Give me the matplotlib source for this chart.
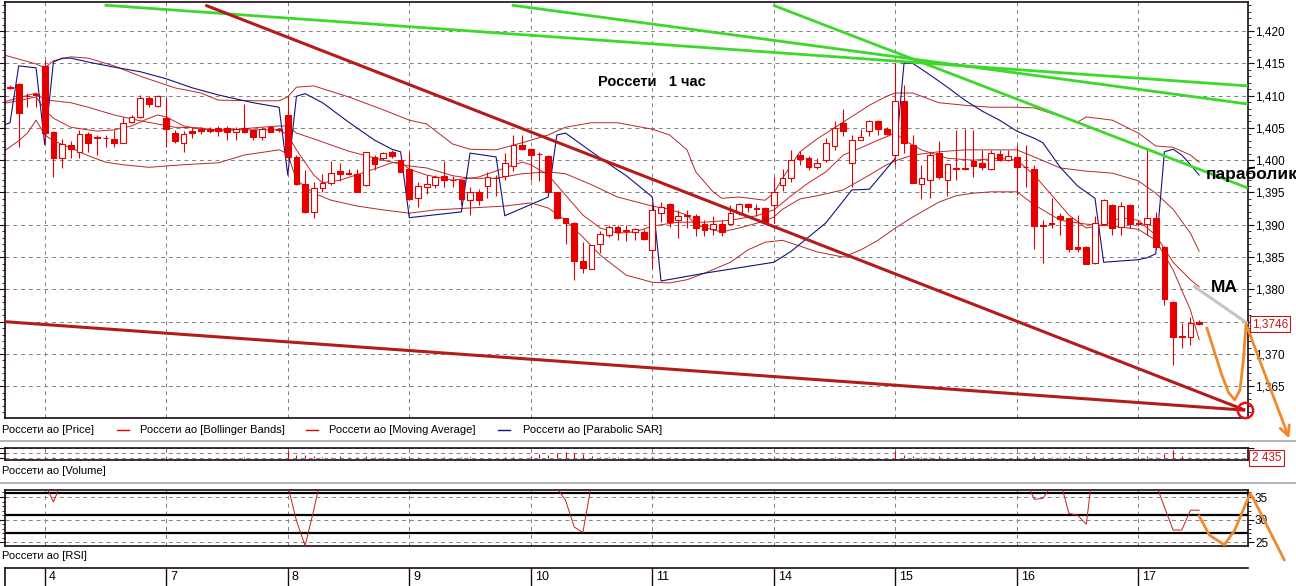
import matplotlib.pyplot as plt
import matplotlib.transforms as mtransforms
from matplotlib.lines import Line2D
from matplotlib.ticker import MultipleLocator, FuncFormatter
import numpy as np

plt.rcParams['font.family'] = ['Liberation Sans Narrow', 'Liberation Sans', 'DejaVu Sans']

# ---- данные (часовые свечи Россети ао) ----
day_labels = ['4', '7', '8', '9', '10', '11', '14', '15', '16', '17']
day_start = [4, 18, 32, 46, 60, 74, 88, 102, 116, 130]

opens = [1.4114, 1.4118, 1.4100, 1.4102, 1.4146, 1.4044, 1.4003, 1.4023, 1.4012, 1.4040,
         1.4036, 1.4035, 1.4033, 1.4027, 1.4059, 1.4067, 1.4096, 1.4084, 1.4066, 1.4042,
         1.4027, 1.4045, 1.4049, 1.4048, 1.4050, 1.4050, 1.4043, 1.4050, 1.4047, 1.4036,
         1.4052, 1.4048, 1.4070, 1.4005, 1.3963, 1.3920, 1.3957, 1.3965, 1.3984, 1.3980,
         1.3979, 1.3962, 1.4005, 1.4004, 1.4013, 1.4001, 1.3987, 1.3941, 1.3958, 1.3962,
         1.3975, 1.3970, 1.3970, 1.3938, 1.3950, 1.3960, 1.3972, 1.3975, 1.3991, 1.4024,
         1.4017, 1.4010, 1.4006, 1.3950, 1.3910, 1.3903, 1.3844, 1.3832, 1.3871, 1.3884,
         1.3897, 1.3892, 1.3889, 1.3889, 1.3861, 1.3918, 1.3932, 1.3907, 1.3914, 1.3914,
         1.3901, 1.3893, 1.3901, 1.3902, 1.3918, 1.3932, 1.3926, 1.3926, 1.3931, 1.3961,
         1.3972, 1.4008, 1.4003, 1.3989, 1.4000, 1.4022, 1.4058, 1.3995, 1.4032, 1.4045,
         1.4061, 1.4048, 1.4008, 1.4092, 1.4024, 1.3963, 1.3969, 1.4011, 1.3969, 1.3988,
         1.3988, 1.3998, 1.3996, 1.3986, 1.4010, 1.4001, 1.4005, 1.3990, 1.3987, 1.3900,
         1.3903, 1.3913, 1.3910, 1.3866, 1.3866, 1.3841, 1.3902, 1.3931, 1.3897, 1.3931,
         1.3903, 1.3901, 1.3910, 1.3866, 1.3781, 1.3727, 1.3726, 1.3750]
highs = [1.4117, 1.4120, 1.4104, 1.4104, 1.4155, 1.4045, 1.4033, 1.4030, 1.4047, 1.4044,
         1.4039, 1.4039, 1.4047, 1.4067, 1.4070, 1.4101, 1.4099, 1.4101, 1.4096, 1.4047,
         1.4045, 1.4051, 1.4052, 1.4051, 1.4053, 1.4053, 1.4052, 1.4087, 1.4049, 1.4052,
         1.4053, 1.4050, 1.4099, 1.4008, 1.3985, 1.3967, 1.3979, 1.3998, 1.3996, 1.3987,
         1.3987, 1.4013, 1.4008, 1.4013, 1.4016, 1.4003, 1.4013, 1.3967, 1.3977, 1.3977,
         1.3998, 1.3976, 1.3971, 1.3958, 1.3955, 1.3982, 1.3977, 1.4011, 1.4039, 1.4039,
         1.4019, 1.4013, 1.4008, 1.3951, 1.3911, 1.3904, 1.3873, 1.3869, 1.3891, 1.3900,
         1.3900, 1.3899, 1.3895, 1.3893, 1.3936, 1.3936, 1.3934, 1.3923, 1.3923, 1.3917,
         1.3907, 1.3913, 1.3907, 1.3931, 1.3933, 1.3933, 1.3932, 1.3928, 1.3974, 1.3986,
         1.4016, 1.4015, 1.4007, 1.4003, 1.4034, 1.4060, 1.4079, 1.4039, 1.4048, 1.4062,
         1.4062, 1.4052, 1.4150, 1.4116, 1.4039, 1.3993, 1.4013, 1.4030, 1.3995, 1.4047,
         1.4049, 1.4047, 1.4016, 1.4016, 1.4016, 1.4016, 1.4024, 1.4024, 1.3993, 1.3907,
         1.3941, 1.3918, 1.3911, 1.3915, 1.3867, 1.3913, 1.3940, 1.3932, 1.3936, 1.3932,
         1.3907, 1.4016, 1.3920, 1.3867, 1.3782, 1.3748, 1.3757, 1.3752]
lows = [1.4110, 1.4021, 1.4082, 1.4083, 1.4027, 1.3974, 1.3988, 1.4003, 1.4003, 1.4013,
        1.4008, 1.4021, 1.4021, 1.4026, 1.4058, 1.4066, 1.4083, 1.4082, 1.4021, 1.4027,
        1.4012, 1.4034, 1.4041, 1.4042, 1.4037, 1.4032, 1.4032, 1.4042, 1.4031, 1.4031,
        1.4043, 1.4044, 1.4003, 1.3962, 1.3919, 1.3910, 1.3951, 1.3962, 1.3968, 1.3977,
        1.3950, 1.3960, 1.3985, 1.4000, 1.4003, 1.3981, 1.3938, 1.3928, 1.3948, 1.3957,
        1.3959, 1.3959, 1.3931, 1.3915, 1.3931, 1.3941, 1.3944, 1.3969, 1.3983, 1.4016,
        1.3969, 1.3968, 1.3949, 1.3909, 1.3870, 1.3815, 1.3825, 1.3831, 1.3856, 1.3881,
        1.3876, 1.3875, 1.3876, 1.3876, 1.3833, 1.3905, 1.3897, 1.3880, 1.3895, 1.3882,
        1.3882, 1.3884, 1.3882, 1.3901, 1.3915, 1.3920, 1.3913, 1.3902, 1.3903, 1.3952,
        1.3967, 1.3993, 1.3985, 1.3987, 1.3997, 1.4016, 1.4038, 1.3959, 1.4031, 1.4037,
        1.4039, 1.4039, 1.3993, 1.4011, 1.3964, 1.3940, 1.3942, 1.3971, 1.3945, 1.3969,
        1.3985, 1.3974, 1.3985, 1.3985, 1.3999, 1.3999, 1.3946, 1.3958, 1.3862, 1.3841,
        1.3895, 1.3884, 1.3858, 1.3858, 1.3839, 1.3840, 1.3900, 1.3884, 1.3884, 1.3895,
        1.3898, 1.3884, 1.3864, 1.3776, 1.3683, 1.3709, 1.3714, 1.3745]
closes = [1.4111, 1.4073, 1.4099, 1.4101, 1.4042, 1.4003, 1.4025, 1.4017, 1.4040, 1.4027,
          1.4035, 1.4034, 1.4027, 1.4057, 1.4067, 1.4096, 1.4087, 1.4100, 1.4048, 1.4029,
          1.4040, 1.4042, 1.4045, 1.4045, 1.4045, 1.4043, 1.4049, 1.4044, 1.4036, 1.4049,
          1.4044, 1.4046, 1.4005, 1.3963, 1.3920, 1.3957, 1.3965, 1.3980, 1.3978, 1.3979,
          1.3951, 1.4012, 1.3994, 1.4011, 1.4006, 1.3982, 1.3940, 1.3960, 1.3963, 1.3974,
          1.3969, 1.3969, 1.3940, 1.3951, 1.3939, 1.3974, 1.3973, 1.3995, 1.4023, 1.4017,
          1.4008, 1.4009, 1.3950, 1.3910, 1.3903, 1.3844, 1.3833, 1.3868, 1.3885, 1.3896,
          1.3889, 1.3891, 1.3893, 1.3878, 1.3923, 1.3928, 1.3905, 1.3914, 1.3915, 1.3895,
          1.3892, 1.3902, 1.3889, 1.3918, 1.3932, 1.3928, 1.3925, 1.3905, 1.3951, 1.3972,
          1.4000, 1.4002, 1.3989, 1.3995, 1.4027, 1.4050, 1.4045, 1.4031, 1.4036, 1.4061,
          1.4048, 1.4040, 1.4092, 1.4027, 1.3965, 1.3973, 1.4008, 1.3974, 1.3994, 1.3987,
          1.3987, 1.3991, 1.3990, 1.4011, 1.4001, 1.4006, 1.3989, 1.3989, 1.3898, 1.3898,
          1.3902, 1.3909, 1.3862, 1.3862, 1.3840, 1.3903, 1.3938, 1.3895, 1.3929, 1.3902,
          1.3902, 1.3910, 1.3865, 1.3785, 1.3726, 1.3726, 1.3748, 1.3746]
volume = [5000, 4000, 5000, 4000, 15000, 18000, 8000, 6000, 8000, 5000,
          4000, 3000, 6000, 7000, 5000, 8000, 6000, 5000, 14000, 8000,
          6000, 4000, 3000, 4000, 3000, 4000, 3000, 9000, 6000, 5000,
          4000, 3000, 77000, 33000, 33000, 25000, 18000, 15000, 19000, 9000,
          14000, 20000, 12000, 9000, 8000, 13000, 18000, 10000, 7000, 6000,
          9000, 5000, 10000, 9000, 6000, 8000, 5000, 9000, 12000, 7000,
          20000, 40000, 30000, 57000, 67000, 55000, 40000, 25000, 15000, 14000,
          9000, 8000, 7000, 9000, 18000, 8000, 9000, 6000, 5000, 7000,
          6000, 5000, 6000, 7000, 6000, 4000, 3000, 6000, 14000, 9000,
          10000, 6000, 7000, 5000, 8000, 9000, 7000, 10000, 4000, 6000,
          5000, 4000, 77000, 35000, 25000, 18000, 15000, 20000, 14000, 10000,
          9000, 13000, 8000, 10000, 7000, 6000, 25000, 14000, 24000, 18000,
          12000, 9000, 20000, 14000, 22000, 15000, 10000, 12000, 9000, 8000,
          15000, 28000, 18000, 40000, 83000, 20000, 9000, 2435]

# полосы Боллинджера, скользящая средняя, параболик (узлы)
bb_up_x = [-1, 3, 4, 5, 7, 9, 12, 15, 19, 22, 24, 28, 31, 32, 33, 35, 39, 43, 46, 48,
           51, 53, 56, 59, 62, 64, 67, 70, 74, 76, 78, 79, 81, 82, 84, 87, 88, 89, 91, 93,
           96, 99, 101, 102, 104, 107, 110, 113, 116, 118, 121, 123, 124, 127, 130, 132, 134, 136, 137]
bb_up = [1.4164, 1.4149, 1.4143, 1.4154, 1.4160, 1.4158, 1.4146, 1.4130, 1.4112, 1.4104,
         1.4093, 1.4092, 1.4092, 1.4098, 1.4113, 1.4115, 1.4098, 1.4078, 1.4062, 1.4056,
         1.4025, 1.4017, 1.4016, 1.4027, 1.4039, 1.4051, 1.4058, 1.4058, 1.4048, 1.4039,
         1.4016, 1.3982, 1.3951, 1.3941, 1.3943, 1.3938, 1.3949, 1.3972, 1.4013, 1.4033,
         1.4059, 1.4085, 1.4099, 1.4104, 1.4104, 1.4089, 1.4085, 1.4082, 1.4082, 1.4081,
         1.4068, 1.4059, 1.4067, 1.4062, 1.4042, 1.4022, 1.4020, 1.4008, 1.3997]
bb_lo_x = [-1, 1, 2, 3, 4, 5, 7, 9, 11, 13, 16, 20, 24, 27, 31, 32, 33, 35, 37, 40,
           43, 46, 49, 53, 57, 60, 62, 64, 66, 68, 71, 74, 76, 78, 80, 83, 85, 87, 89, 91,
           93, 96, 98, 100, 102, 104, 107, 109, 111, 113, 116, 118, 121, 124, 127, 130, 132, 134, 136, 137]
bb_lo = [1.4011, 1.4030, 1.4042, 1.4062, 1.4039, 1.4030, 1.4019, 1.4007, 1.3997, 1.3993,
         1.3989, 1.3993, 1.3996, 1.4008, 1.4016, 1.4010, 1.3969, 1.3949, 1.3938, 1.3929,
         1.3923, 1.3918, 1.3923, 1.3926, 1.3929, 1.3934, 1.3926, 1.3907, 1.3881, 1.3853,
         1.3822, 1.3811, 1.3810, 1.3815, 1.3825, 1.3842, 1.3861, 1.3873, 1.3876, 1.3867,
         1.3858, 1.3850, 1.3861, 1.3876, 1.3895, 1.3912, 1.3935, 1.3945, 1.3949, 1.3951,
         1.3951, 1.3931, 1.3907, 1.3901, 1.3898, 1.3893, 1.3876, 1.3830, 1.3768, 1.3722]
bb_mid_x = [-1, 3, 4, 5, 7, 9, 12, 15, 19, 22, 24, 28, 31, 32, 33, 35, 39, 43, 46, 48,
            51, 53, 56, 59, 62, 64, 67, 70, 74, 76, 78, 79, 81, 82, 84, 87, 88, 89, 91, 93,
            96, 99, 101, 102, 104, 107, 110, 113, 116, 118, 121, 124, 127, 130, 132, 134, 136, 137]
bb_mid = [1.4089, 1.4104, 1.4093, 1.4092, 1.4089, 1.4082, 1.4070, 1.4061, 1.4051, 1.4050,
          1.4045, 1.4050, 1.4053, 1.4053, 1.4042, 1.4033, 1.4014, 1.4000, 1.3991, 1.3988,
          1.3976, 1.3972, 1.3972, 1.3979, 1.3982, 1.3979, 1.3962, 1.3943, 1.3929, 1.3924,
          1.3915, 1.3900, 1.3892, 1.3889, 1.3895, 1.3906, 1.3912, 1.3924, 1.3940, 1.3945,
          1.3954, 1.3977, 1.3993, 1.3999, 1.4008, 1.4013, 1.4016, 1.4016, 1.4016, 1.4005,
          1.3988, 1.3983, 1.3980, 1.3968, 1.3949, 1.3924, 1.3887, 1.3859]
ma_x = [-1, 2, 3, 4, 5, 7, 10, 12, 14, 16, 17, 18, 20, 22, 24, 31, 32, 33, 35, 36,
        38, 41, 44, 45, 46, 48, 51, 54, 57, 59, 60, 62, 64, 66, 68, 70, 72, 74, 77, 80,
        83, 86, 88, 90, 92, 94, 96, 98, 100, 102, 103, 105, 108, 111, 114, 116, 118, 120, 122, 124,
        126, 128, 130, 132, 134, 136, 137]
ma = [1.4087, 1.4095, 1.4098, 1.4078, 1.4065, 1.4051, 1.4045, 1.4047, 1.4053, 1.4065,
      1.4070, 1.4067, 1.4053, 1.4048, 1.4047, 1.4047, 1.4039, 1.4016, 1.3977, 1.3965,
      1.3969, 1.3982, 1.3996, 1.3997, 1.3986, 1.3977, 1.3969, 1.3974, 1.3988, 1.3997,
      1.3993, 1.3977, 1.3946, 1.3915, 1.3895, 1.3887, 1.3889, 1.3898, 1.3904, 1.3904,
      1.3907, 1.3914, 1.3923, 1.3945, 1.3965, 1.3982, 1.4008, 1.4019, 1.4031, 1.4042,
      1.4031, 1.4016, 1.4003, 1.4000, 1.4003, 1.4000, 1.3977, 1.3946, 1.3915, 1.3895,
      1.3900, 1.3911, 1.3907, 1.3884, 1.3842, 1.3815, 1.3804]
sar_x = [-1, 0, 1, 3, 4, 5, 6, 7, 9, 12, 15, 18, 21, 24, 28, 31, 32, 33, 34, 36,
         39, 42, 44, 45, 46, 52, 53, 56, 57, 62, 63, 64, 67, 69, 71, 74, 75, 80, 88, 90,
         94, 97, 99, 102, 103, 104, 106, 108, 110, 112, 114, 116, 118, 119, 121, 123, 125, 126, 130, 131,
         132, 133, 134, 135, 136, 137]
sar = [1.4053, 1.4058, 1.4146, 1.4143, 1.4024, 1.4152, 1.4158, 1.4158, 1.4152, 1.4144,
       1.4137, 1.4126, 1.4112, 1.4101, 1.4089, 1.4082, 1.3977, 1.4099, 1.4103, 1.4089,
       1.4059, 1.4031, 1.4017, 1.4013, 1.3911, 1.3920, 1.4011, 1.4005, 1.3914, 1.3943,
       1.4039, 1.4042, 1.4013, 1.3994, 1.3976, 1.3943, 1.3813, 1.3825, 1.3842, 1.3859,
       1.3903, 1.3954, 1.3955, 1.4003, 1.4150, 1.4150, 1.4132, 1.4113, 1.4093, 1.4076,
       1.4062, 1.4045, 1.4034, 1.4027, 1.3989, 1.3960, 1.3941, 1.3842, 1.3846, 1.3849,
       1.3855, 1.4013, 1.4017, 1.4008, 1.3993, 1.3977]

# RSI: видны только провалы ниже верхней границы окна
rsi_segments = [
    ([4, 5, 6], [38.0, 33.9, 38.5]),
    ([31, 32, 33, 34, 35, 36], [45.0, 37.5, 29.8, 24.3, 32.2, 41.0]),
    ([62, 63, 64, 65, 66, 67], [45.0, 37.0, 34.3, 28.4, 27.2, 38.0]),
    ([116, 117, 118, 119, 120, 121, 122, 123, 124, 125],
     [42.0, 39.0, 34.5, 34.7, 37.5, 38.5, 31.4, 31.0, 29.0, 45.0]),
    ([131, 132, 133, 134, 135, 136, 137], [45.0, 38.0, 32.8, 27.75, 27.75, 32.1, 32.1]),
]
rsi_levels = [35.8, 31.0, 27.15]

# ручные построения на графике
red_trends = [([22.5, 142.3], [1.4240, 1.3613]), ([-0.6, 142.3], [1.3750, 1.3613])]
green_trends = [([10.9, 142.6], [1.4240, 1.4115]), ([57.8, 142.6], [1.4240, 1.4087]),
                ([87.9, 142.6], [1.4240, 1.3957])]
ma_forecast = ([136.5, 142.5], [1.3804, 1.3748])
target_point = (142.3, 1.3613)
arrow_price_x = [137.9, 138.7, 139.6, 140.4, 141.1, 141.7, 142.1, 142.4]
arrow_price_y = [1.3740, 1.3706, 1.3668, 1.3640, 1.3629, 1.3644, 1.3691, 1.3746]
arrow_price_tip = (147.5, 1.3565)
arrow_rsi_x = [137.0, 138.2, 139.9, 141.1, 142.3, 142.9, 143.2, 146.8]
arrow_rsi_y = [30.8, 26.6, 24.5, 27.7, 33.2, 35.7, 34.8, 21.2]

# ---- оформление ----
W, H = 1296, 586
RED = '#e40000'
DARK = '#1c0818'
GRID = '#808080'
BAND = '#b22a2a'
XL = (-0.58, 142.63)


def box(x0, y0, x1, y1):
    return [x0 / W, 1 - y1 / H, (x1 - x0) / W, (y1 - y0) / H]


def price_label(v, pos):
    # метка 1,375 закрыта плашкой последней цены
    if abs(v - 1.375) < 1e-6:
        return ''
    return f'{v:.3f}'.replace('.', ',')


fig = plt.figure(figsize=(W / 100, H / 100), dpi=100)
ax = fig.add_axes(box(5, 2, 1248, 418))
axv = fig.add_axes(box(5, 448, 1248, 460))
axr = fig.add_axes(box(5, 490, 1248, 546))
axd = fig.add_axes(box(5, 568, 1248, 592))

for a in (ax, axv, axr):
    a.set_xlim(*XL)
    a.set_xticks(day_start)
    a.tick_params(axis='x', length=0, labelbottom=False)
    a.grid(True, which='major', color=GRID, lw=0.7, ls=(0, (4, 4)))
    for s in a.spines.values():
        s.set_color(DARK)
        s.set_linewidth(1.2)
    a.tick_params(axis='y', which='both', left=True, right=True, direction='out',
                  color=DARK, labelsize=8.5, pad=1)
    a.tick_params(axis='y', which='major', length=4)
    a.tick_params(axis='y', which='minor', length=2)

# цена
ax.set_ylim(1.36009, 1.42449)
ax.yaxis.set_major_locator(MultipleLocator(0.005))
ax.yaxis.set_minor_locator(MultipleLocator(0.001))
ax.yaxis.set_major_formatter(FuncFormatter(price_label))
ax.tick_params(axis='y', labelleft=False, labelright=True)

idx = np.arange(len(closes))
o, h, l, c = (np.array(v) for v in (opens, highs, lows, closes))
up = c >= o
ax.vlines(idx, l, h, color=RED, lw=0.8, zorder=3)
body_lo = np.minimum(o, c)
body_h = np.abs(c - o)
thin = body_h < 0.00012
body_lo = np.where(thin, (o + c) / 2 - 0.00006, body_lo)
body_h = np.where(thin, 0.00012, body_h)
ax.bar(idx[up], body_h[up], 0.66, bottom=body_lo[up], facecolor='white',
       edgecolor=RED, lw=0.8, zorder=4)
ax.bar(idx[~up], body_h[~up], 0.66, bottom=body_lo[~up], facecolor=RED,
       edgecolor=RED, lw=0.8, zorder=4)

ax.plot(bb_up_x, bb_up, color=BAND, lw=0.7, zorder=2)
ax.plot(bb_lo_x, bb_lo, color=BAND, lw=0.7, zorder=2)
ax.plot(bb_mid_x, bb_mid, color=BAND, lw=0.7, zorder=2)
ax.plot(ma_x, ma, color='#d02020', lw=0.7, zorder=2)
ax.plot(sar_x, sar, color='#14147a', lw=0.8, zorder=2)

for xs, ys in green_trends:
    ax.plot(xs, ys, color='#3ed82c', lw=2.0, zorder=5, solid_capstyle='butt')
for xs, ys in red_trends:
    ax.plot(xs, ys, color='#b41c1c', lw=2.2, zorder=5, solid_capstyle='butt')
ax.plot(*ma_forecast, color='#c4c4c4', lw=2.2, zorder=5)
ax.plot(*target_point, 'o', ms=11, mfc='none', mec='#e81010', mew=1.8, zorder=6, clip_on=False)
ax.plot(arrow_price_x, arrow_price_y, color='#f0892a', lw=2.0, zorder=6, clip_on=False)
ax.annotate('', xy=arrow_price_tip, xytext=(arrow_price_x[-1], arrow_price_y[-1]),
            arrowprops=dict(arrowstyle='->,head_length=0.7,head_width=0.35', color='#f0892a', lw=2.0),
            annotation_clip=False, zorder=6)

yt = mtransforms.blended_transform_factory(ax.transAxes, ax.transData)
ax.text(1.003, closes[-1], f'{closes[-1]:.4f}'.replace('.', ','), transform=yt, color='#c01818',
        fontsize=8.5, va='center', ha='left', zorder=10, clip_on=False,
        bbox=dict(boxstyle='square,pad=0.15', fc='white', ec='#c01818', lw=0.8))

# объём
axv.set_ylim(-17000, 103000)
axv.set_yticks([0, 50000, 100000])
axv.tick_params(axis='y', labelleft=False, labelright=False)
axv.vlines(idx, 0, volume, color=RED, lw=0.8)
vt = mtransforms.blended_transform_factory(axv.transAxes, axv.transData)
axv.text(1.003, volume[-1], f'{volume[-1]:,}'.replace(',', ' '), transform=vt, color='#c01818',
         fontsize=8.5, va='center', ha='left', zorder=10, clip_on=False,
         bbox=dict(boxstyle='square,pad=0.2', fc='white', ec='#c01818', lw=0.8))

# RSI
axr.set_ylim(24.23, 36.54)
axr.set_yticks([25, 30, 35])
axr.yaxis.set_minor_locator(MultipleLocator(1))
axr.tick_params(axis='y', labelleft=False, labelright=True)
for lv in rsi_levels:
    axr.axhline(lv, color='black', lw=1.6, zorder=3)
for xs, ys in rsi_segments:
    axr.plot(xs, ys, color='#c02020', lw=0.7, zorder=4)
axr.plot(arrow_rsi_x, arrow_rsi_y, color='#f0892a', lw=2.0, zorder=6, clip_on=False)

# шкала дней
axd.set_xlim(*XL)
axd.set_ylim(0, 1)
axd.axis('off')
axd.plot([XL[0], XL[1]], [1, 1], color=DARK, lw=1.2, clip_on=False)
axd.plot([XL[0], XL[0]], [0, 1], color=DARK, lw=1.2, clip_on=False)
axd.vlines(day_start, 0, 1, color=DARK, lw=1.0)
for d, s in zip(day_labels, day_start):
    axd.text(s + 0.45, 0.62, d, fontsize=9, va='center', ha='left')

# подписи
fig.text(598 / W, 1 - 82 / H, 'Россети   1 час', fontsize=10.5, fontweight='bold',
         family=['Liberation Sans', 'DejaVu Sans'], va='center', ha='left')
fig.text(1206 / W, 1 - 174 / H, 'параболик', fontsize=12.5, fontweight='bold',
         family=['Liberation Sans', 'DejaVu Sans'], va='center', ha='left')
fig.text(1211 / W, 1 - 287 / H, 'MA', fontsize=12.5, fontweight='bold',
         family=['Liberation Sans', 'DejaVu Sans'], va='center', ha='left')

leg_y = 1 - 430 / H
fig.text(2 / W, leg_y, 'Россети ао [Price]', fontsize=8, va='center')
fig.add_artist(Line2D([117 / W, 129 / W], [leg_y, leg_y], color=RED, lw=1))
fig.text(140 / W, leg_y, 'Россети ао [Bollinger Bands]', fontsize=8, va='center')
fig.add_artist(Line2D([306 / W, 318 / W], [leg_y, leg_y], color=RED, lw=1))
fig.text(329 / W, leg_y, 'Россети ао [Moving Average]', fontsize=8, va='center')
fig.add_artist(Line2D([498 / W, 510 / W], [leg_y, leg_y], color='#14147a', lw=1))
fig.text(523 / W, leg_y, 'Россети ао [Parabolic SAR]', fontsize=8, va='center')
fig.text(2 / W, 1 - 471 / H, 'Россети ао [Volume]', fontsize=8, va='center')
fig.text(2 / W, 1 - 556 / H, 'Россети ао [RSI]', fontsize=8, va='center')
for yy in (441, 483):
    fig.add_artist(Line2D([0, 1], [1 - yy / H] * 2, color='#b4b4b4', lw=1.4))

fig.savefig('out.png', dpi=100)
